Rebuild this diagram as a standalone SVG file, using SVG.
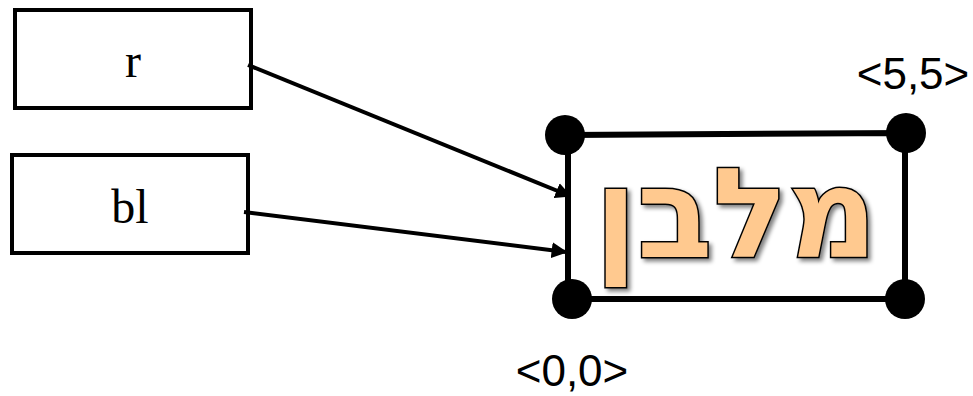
<svg xmlns="http://www.w3.org/2000/svg" width="973" height="396" viewBox="0 0 973 396">
<style>
.box{fill:#fff;stroke:#000;stroke-width:4}
.lbl{font-family:"Liberation Serif","DejaVu Serif",serif;font-size:48px;text-anchor:middle}
.coord{font-family:"Liberation Sans","DejaVu Sans",sans-serif;font-size:44px;text-anchor:middle}
.edge{stroke:#000;stroke-width:4;fill:none;marker-end:url(#ah)}
.dot{fill:#000}
.heb{font-family:"DejaVu Sans","Liberation Sans",sans-serif;font-weight:bold;font-size:124px;fill:#FFC98F;stroke:#000;stroke-width:3;text-anchor:middle;paint-order:stroke}
</style>
<defs>
<marker id="ah" viewBox="0 0 10 10" refX="9" refY="5" markerWidth="4" markerHeight="4" orient="auto" markerUnits="strokeWidth">
<path d="M0,0 L10,5 L0,10 z" fill="#000"/>
</marker>
<filter id="sh" x="-10%" y="-10%" width="130%" height="130%">
<feGaussianBlur in="SourceAlpha" stdDeviation="2"/>
<feOffset dx="3" dy="3" result="b"/>
<feComponentTransfer><feFuncA type="linear" slope="0.5"/></feComponentTransfer>
<feMerge><feMergeNode/><feMergeNode in="SourceGraphic"/></feMerge>
</filter>
</defs>
<g id="node-r">
<rect class="box" x="15" y="10" width="236" height="98"/>
<text class="lbl" x="133" y="77">r</text>
</g>
<g id="node-bl">
<rect class="box" x="12" y="155" width="236" height="98"/>
<text class="lbl" x="130" y="223">bl</text>
</g>
<g id="node-rect">
<polygon points="568,135 905,133 905,299 568,299" fill="#fff" stroke="#000" stroke-width="6"/>
<text class="heb" x="736" y="257" filter="url(#sh)">מלבן</text>
<circle class="dot" cx="565" cy="135" r="20"/>
<circle class="dot" cx="906" cy="133" r="20"/>
<circle class="dot" cx="572" cy="299" r="20"/>
<circle class="dot" cx="905" cy="299" r="20"/>
</g>
<g id="label-55"><text class="coord" x="913" y="89">&lt;5,5&gt;</text></g>
<g id="label-00"><text class="coord" x="572" y="386">&lt;0,0&gt;</text></g>
<g id="connectors">
<line class="edge" x1="248" y1="65" x2="570" y2="196"/>
<line class="edge" x1="244" y1="212" x2="566" y2="252"/>
</g>
</svg>
